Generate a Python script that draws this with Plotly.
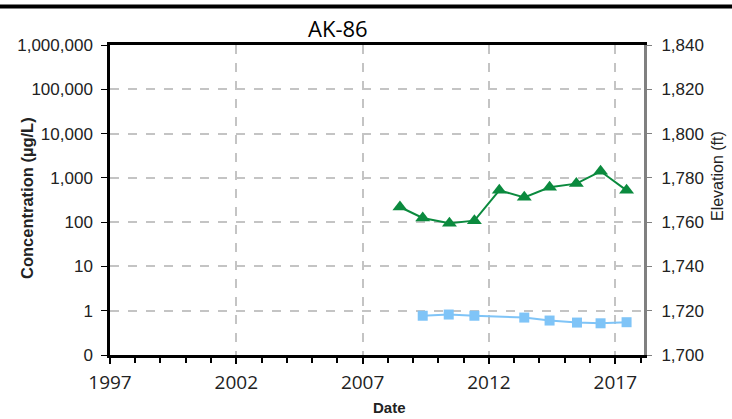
import plotly.graph_objects as go

# Data
green_dates = ["2008-06-24", "2009-05-19", "2010-06-09", "2011-06-05", "2012-05-30",
               "2013-05-26", "2014-05-27", "2015-06-18", "2016-06-02", "2017-06-13"]
green_values = [220, 124, 95, 108, 522, 363, 611, 741, 1406, 522]

blue_dates = ["2009-05-19", "2010-05-30", "2011-06-05", "2013-05-26", "2014-05-27",
              "2015-06-27", "2016-06-02", "2017-06-13"]
blue_values = [0.77, 0.82, 0.77, 0.70, 0.60, 0.54, 0.52, 0.55]

conc_tickvals = [0.1, 1, 10, 100, 1000, 10000, 100000, 1000000]
conc_ticktext = ["0", "1", "10", "100", "1,000", "10,000", "100,000", "1,000,000"]

title_text = "AK-86"

W, H = 732, 419
L, R, T, B = 110, 88, 45, 64
pw, ph = W - L - R, H - T - B


def px_x(p):
    return (p - L) / pw


def px_y(p):
    return 1 - (p - T) / ph


fig = go.Figure()
fig.add_trace(go.Scatter(x=green_dates, y=green_values, mode="lines+markers",
                         line=dict(color="#0b8a3e", width=2),
                         marker=dict(symbol="triangle-up", size=13, color="#0b8a3e"),
                         showlegend=False))
fig.add_trace(go.Scatter(x=blue_dates, y=blue_values, mode="lines+markers",
                         line=dict(color="#7fc4f7", width=2),
                         marker=dict(symbol="square", size=10, color="#7fc4f7"),
                         showlegend=False))
fig.add_trace(go.Scatter(x=[], y=[], yaxis="y2", showlegend=False))

fig.update_layout(
    width=W, height=H,
    margin=dict(l=L, r=R, t=T, b=B),
    plot_bgcolor="white", paper_bgcolor="white",
    xaxis=dict(
        type="date", range=["1997-01-01", "2018-02-20"],
        tick0="1997-01-01", dtick="M60", tickformat="%Y",
        ticks="outside", ticklen=6, tickcolor="black", tickwidth=1.5,
        minor=dict(dtick="M12", ticks="outside", ticklen=5, tickcolor="black", showgrid=False),
        showgrid=True, gridcolor="#c4c4c4", griddash="dash", gridwidth=1.5,
        showline=True, linecolor="black", linewidth=2.5, mirror=True,
        tickfont=dict(family="Open Sans", size=19, color="#222"),
        ticklabelstandoff=2,
        zeroline=False,
    ),
    yaxis=dict(
        type="log", range=[-1, 6],
        tickvals=conc_tickvals, ticktext=conc_ticktext,
        ticks="outside", ticklen=6, tickcolor="black",
        showgrid=True, gridcolor="#c4c4c4", griddash="dash", gridwidth=1.5,
        showline=True, linecolor="black", linewidth=2.5,
        tickfont=dict(family="Liberation Sans", size=17, color="#222"),
        ticklabelstandoff=5,
    ),
    yaxis2=dict(
        overlaying="y", side="right", range=[1700, 1840], dtick=20, tickformat=",",
        ticks="outside", ticklen=5, tickcolor="#808080",
        showgrid=False, zeroline=False,
        showline=True, linecolor="#808080", linewidth=3,
        tickfont=dict(family="Liberation Sans", size=17, color="#222"),
        ticklabelstandoff=6,
    ),
    annotations=[
        dict(text=title_text, x=px_x(338), y=px_y(28), xref="paper", yref="paper",
             xanchor="center", yanchor="middle", showarrow=False,
             font=dict(family="Open Sans", size=22, color="black")),
        dict(text="<b>Date</b>", x=px_x(389), y=px_y(407), xref="paper", yref="paper",
             xanchor="center", yanchor="middle", showarrow=False,
             font=dict(family="Liberation Sans", size=15, color="#222")),
        dict(text="<b>Concentration (µg/L)</b>", x=px_x(27), y=px_y(198), xref="paper", yref="paper",
             xanchor="center", yanchor="middle", showarrow=False, textangle=-90,
             font=dict(family="Liberation Sans", size=16.5, color="#222")),
        dict(text="Elevation (ft)", x=px_x(717), y=px_y(176), xref="paper", yref="paper",
             xanchor="center", yanchor="middle", showarrow=False, textangle=-90,
             font=dict(family="Liberation Sans", size=16, color="#222")),
    ],
    shapes=[dict(type="line", xref="paper", yref="paper",
                 x0=px_x(0), x1=px_x(W), y0=px_y(6.5), y1=px_y(6.5),
                 line=dict(color="black", width=4))],
)

fig.write_html("out.html", post_script="document.body.style.margin='0';",
               config={"displayModeBar": False})
